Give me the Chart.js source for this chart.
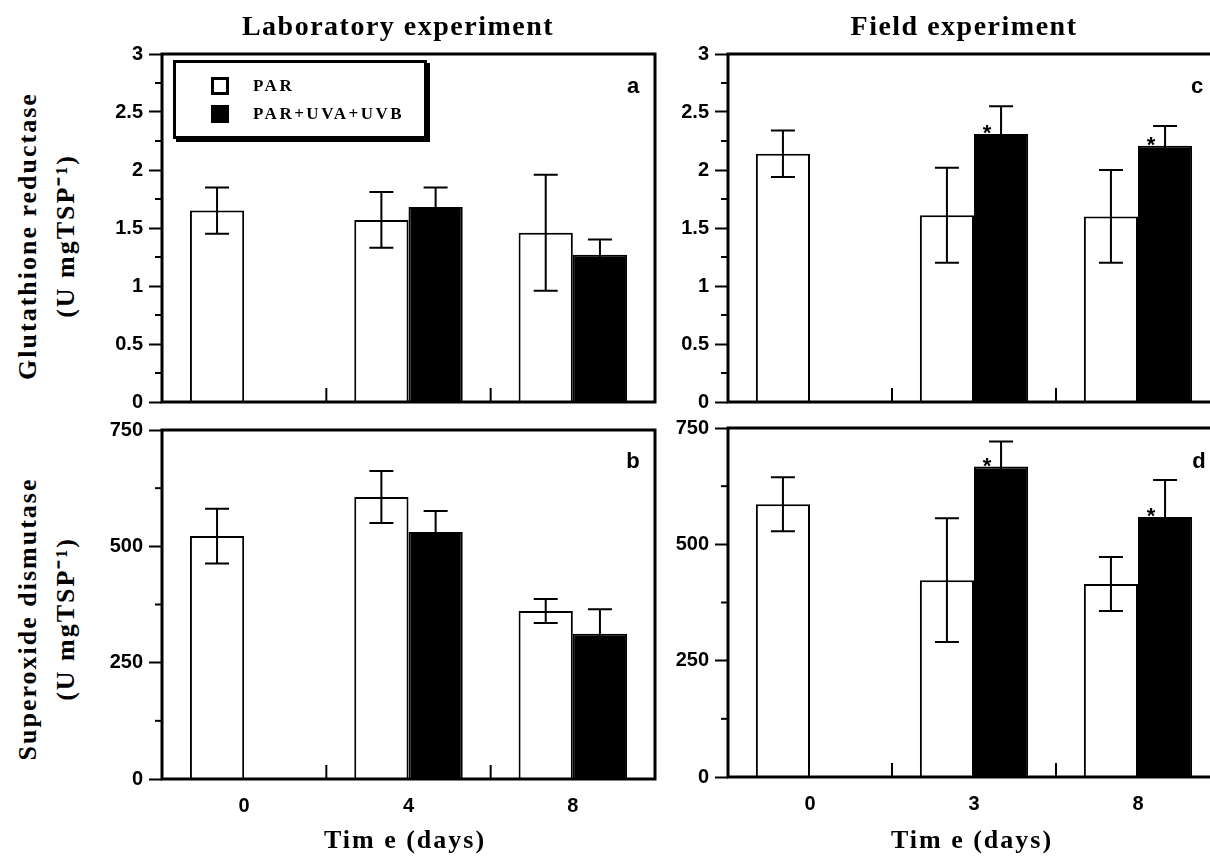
<!DOCTYPE html>
<html>
<head>
<meta charset="utf-8">
<script src="https://cdn.jsdelivr.net/npm/chart.js@4.4.1/dist/chart.umd.min.js"></script>
<style>
  html, body { margin: 0; padding: 0; background: #fff; }
  body { width: 1210px; height: 858px; overflow: hidden; position: relative; }
  .panel { position: absolute; }
  .title { position: absolute; font: bold 28px "Liberation Serif", serif; letter-spacing: 1.5px; white-space: nowrap; transform: translate(-50%, -50%); }
  .xtitle { position: absolute; font: bold 26px "Liberation Serif", serif; letter-spacing: 2px; white-space: nowrap; transform: translate(-50%, -50%); }
  .ytitle { position: absolute; font: bold 26px "Liberation Serif", serif; letter-spacing: 2px; white-space: nowrap; text-align: center; line-height: 38px; transform: translate(-50%, -50%) rotate(-90deg); }
  .tag { position: absolute; font: bold 22px "Liberation Sans", sans-serif; transform: translate(-50%, -50%); }
  .legend { position: absolute; left: 173px; top: 60px; width: 248px; height: 73px; border: 3px solid #000; background: #fff; box-shadow: 3px 3px 0 #000; }
  .legend .sw { position: absolute; width: 18px; height: 18px; box-sizing: border-box; border: 3px solid #000; }
  .legend span { position: absolute; font: bold 17px "Liberation Serif", serif; letter-spacing: 2.5px; line-height: 20px; white-space: nowrap; }
</style>
</head>
<body>
<div class="panel" style="left:102px;top:36px;width:563px;height:386px"><canvas id="lab-gr"></canvas></div>
<div class="panel" style="left:102px;top:412px;width:563px;height:417px"><canvas id="lab-sod"></canvas></div>
<div class="panel" style="left:668px;top:36px;width:562px;height:386px"><canvas id="field-gr"></canvas></div>
<div class="panel" style="left:668px;top:410px;width:562px;height:417px"><canvas id="field-sod"></canvas></div>

<div class="title" style="left:398px;top:26px">Laboratory experiment</div>
<div class="title" style="left:964px;top:26px">Field experiment</div>
<div class="xtitle" style="left:405px;top:840px">Tim e (days)</div>
<div class="xtitle" style="left:972px;top:840px">Tim e (days)</div>
<div class="ytitle" style="left:47px;top:236px">Glutathione reductase<br>(U mgTSP⁻¹)</div>
<div class="ytitle" style="left:47px;top:619px">Superoxide dismutase<br>(U mgTSP⁻¹)</div>
<div class="tag" style="left:633px;top:86px">a</div>
<div class="tag" style="left:633px;top:461px">b</div>
<div class="tag" style="left:1197px;top:86px">c</div>
<div class="tag" style="left:1199px;top:461px">d</div>
<div class="legend">
  <div class="sw" style="left:35px;top:14px;background:#fff"></div><span style="left:77px;top:13px">PAR</span>
  <div class="sw" style="left:35px;top:42px;background:#000"></div><span style="left:77px;top:41px">PAR+UVA+UVB</span>
</div>

<script>
// categories
const labDays = ['0', '4', '8'];
const fieldDays = ['0', '3', '8'];
const seriesNames = ['PAR', 'PAR+UVA+UVB'];

// glutathione reductase
const labGrPar = [1.65, 1.57, 1.46];
const labGrParErr = [0.20, 0.24, 0.50];
const labGrUv = [null, 1.68, 1.27];
const labGrUvErr = [null, 0.17, 0.13];
const fieldGrPar = [2.14, 1.61, 1.60];
const fieldGrParErr = [0.20, 0.41, 0.40];
const fieldGrUv = [null, 2.31, 2.21];
const fieldGrUvErr = [null, 0.24, 0.17];

// superoxide dismutase
const labSodPar = [522, 606, 361];
const labSodParErr = [59, 56, 26];
const labSodUv = [null, 531, 312];
const labSodUvErr = [null, 45, 53];
const fieldSodPar = [586, 423, 415];
const fieldSodParErr = [58, 133, 58];
const fieldSodUv = [null, 667, 559];
const fieldSodUvErr = [null, 54, 79];

// significance marks (*) on the UV bars
const noStars = [false, false, false];
const fieldStars = [false, true, true];

// tick labels
const grTicks = ['0', '0.5', '1', '1.5', '2', '2.5', '3'];
const sodTicks = ['0', '250', '500', '750'];

const tickFont = { family: 'Liberation Sans', size: 20, weight: 'bold' };

const extras = {
  id: 'extras',
  afterDatasetsDraw(chart) {
    const ctx = chart.ctx, a = chart.chartArea;
    const xs = chart.scales.x, ys = chart.scales.y;
    ctx.save();
    ctx.strokeStyle = '#000';
    ctx.fillStyle = '#000';

    // error bars + stars
    chart.data.datasets.forEach((ds, d) => {
      const meta = chart.getDatasetMeta(d);
      meta.data.forEach((bar, i) => {
        const v = ds.data[i], e = ds.errors[i];
        if (v == null || e == null) return;
        const top = ys.getPixelForValue(v + e), bot = ys.getPixelForValue(v - e);
        ctx.lineWidth = 2;
        ctx.beginPath();
        ctx.moveTo(bar.x, top); ctx.lineTo(bar.x, bot);
        ctx.moveTo(bar.x - 12, top); ctx.lineTo(bar.x + 12, top);
        ctx.moveTo(bar.x - 12, bot); ctx.lineTo(bar.x + 12, bot);
        ctx.stroke();
        if (ds.stars[i]) {
          ctx.font = 'bold 22px "Liberation Sans"';
          ctx.textAlign = 'center';
          ctx.fillText('*', bar.x - 14, bar.y + 6);
        }
      });
    });

    // short minor ticks on the y axis
    ctx.lineWidth = 2;
    ys.ticks.forEach(t => {
      if (t.label !== '') return;
      const py = ys.getPixelForValue(t.value);
      ctx.beginPath();
      ctx.moveTo(a.left - 7, py); ctx.lineTo(a.left, py);
      ctx.stroke();
    });

    // inward ticks between the day groups
    const n = chart.data.labels.length;
    for (let i = 0; i < n - 1; i++) {
      const px = (xs.getPixelForValue(i) + xs.getPixelForValue(i + 1)) / 2;
      ctx.beginPath();
      ctx.moveTo(px, a.bottom); ctx.lineTo(px, a.bottom - 14);
      ctx.stroke();
    }

    // frame
    ctx.lineWidth = 3;
    ctx.strokeRect(a.left, a.top, a.right - a.left, a.bottom - a.top);
    ctx.restore();
  }
};

function makePanel(id, days, par, parErr, uv, uvErr, stars, yMax, step, tickLabels, showX) {
  new Chart(document.getElementById(id), {
    type: 'bar',
    data: {
      labels: days,
      datasets: [
        { label: seriesNames[0], data: par, errors: parErr, stars: noStars,
          backgroundColor: '#fff', borderColor: '#000', borderWidth: 2 },
        { label: seriesNames[1], data: uv, errors: uvErr, stars: stars,
          backgroundColor: '#000', borderColor: '#000', borderWidth: 2 }
      ]
    },
    options: {
      responsive: true,
      maintainAspectRatio: false,
      animation: false,
      layout: { padding: { top: 16, right: 10, left: 0, bottom: 0 } },
      datasets: { bar: { categoryPercentage: 0.66, barPercentage: 1.0 } },
      plugins: { legend: { display: false }, tooltip: { enabled: false } },
      scales: {
        x: {
          grid: { display: false, drawTicks: false },
          border: { display: false },
          ticks: { display: showX, color: '#000', padding: 15, font: tickFont },
          afterFit(s) { s.height = showX ? 50 : 20; }
        },
        y: {
          min: 0, max: yMax,
          grid: { drawOnChartArea: false, drawTicks: true, tickLength: 13, tickWidth: 2,
                  tickColor: c => tickLabels.includes(String(c.tick.value)) ? '#000' : 'rgba(0,0,0,0)' },
          border: { display: false },
          ticks: {
            stepSize: step, color: '#000', padding: 6, font: tickFont,
            callback: v => tickLabels.includes(String(v)) ? String(v) : ''
          },
          afterFit(s) { s.width = 60; }
        }
      }
    },
    plugins: [extras]
  });
}

makePanel('lab-gr', labDays, labGrPar, labGrParErr, labGrUv, labGrUvErr, noStars, 3, 0.25, grTicks, false);
makePanel('lab-sod', labDays, labSodPar, labSodParErr, labSodUv, labSodUvErr, noStars, 750, 125, sodTicks, true);
makePanel('field-gr', fieldDays, fieldGrPar, fieldGrParErr, fieldGrUv, fieldGrUvErr, fieldStars, 3, 0.25, grTicks, false);
makePanel('field-sod', fieldDays, fieldSodPar, fieldSodParErr, fieldSodUv, fieldSodUvErr, fieldStars, 750, 125, sodTicks, true);
</script>
</body>
</html>
